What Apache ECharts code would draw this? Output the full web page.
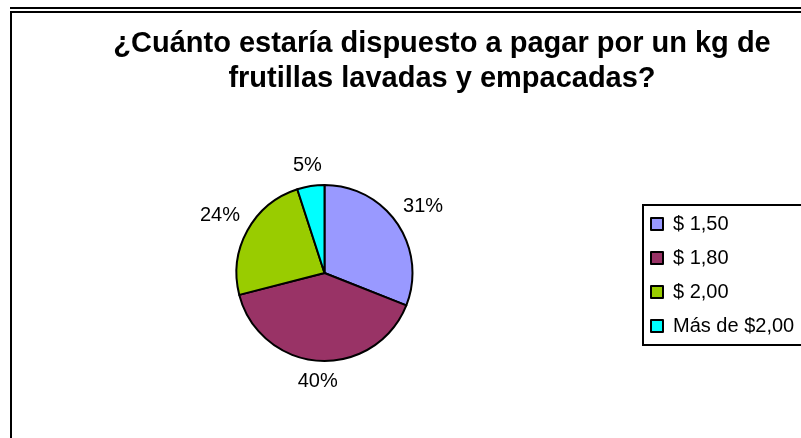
<!DOCTYPE html>
<html>
<head>
<meta charset="utf-8">
<script src="https://cdn.jsdelivr.net/npm/echarts@6/dist/echarts.min.js"></script>
<style>html,body{margin:0;padding:0;background:#fff;}#c{width:801px;height:438px;}</style>
</head>
<body>
<div id="c"></div>
<script>
const categories = ['$ 1,50', '$ 1,80', '$ 2,00', 'Más de $2,00'];
const values = [31, 40, 24, 5];
const colors = ['#9999FF', '#993366', '#99CC00', '#00FFFF'];
const titleText = '¿Cuánto estaría dispuesto a pagar por un kg de\nfrutillas lavadas y empacadas?';

const PIE_CENTER = [324.5, 273];
const PIE_RADIUS = 88;
const LABEL_GAP = 9;

const pieData = categories.map((n, i) => ({name: n, value: values[i], itemStyle: {color: colors[i]}}));

const chart = echarts.init(document.getElementById('c'), null, {renderer: 'canvas'});
chart.setOption({
  animation: false,
  backgroundColor: '#fff',
  title: {
    text: titleText,
    left: 437,
    top: 21,
    textAlign: 'center',
    textStyle: {fontFamily: 'Liberation Sans', fontSize: 29, fontWeight: 'bold', color: '#000', lineHeight: 35}
  },
  legend: {
    orient: 'vertical',
    left: 643,
    top: 205,
    data: categories,
    icon: 'rect',
    itemWidth: 12,
    itemHeight: 12,
    itemGap: 14,
    padding: [9, 12, 9, 7],
    borderColor: '#000',
    borderWidth: 2,
    backgroundColor: '#fff',
    textStyle: {fontFamily: 'Liberation Sans', fontSize: 20, color: '#000', padding: [0, 0, 0, 5]},
    itemStyle: {borderColor: '#000', borderWidth: 2}
  },
  graphic: [
    {type: 'line', shape: {x1: 10, y1: 8, x2: 801, y2: 8}, style: {stroke: '#000', lineWidth: 2}},
    {type: 'line', shape: {x1: 10, y1: 12, x2: 801, y2: 12}, style: {stroke: '#000', lineWidth: 2}},
    {type: 'line', shape: {x1: 11, y1: 12, x2: 11, y2: 438}, style: {stroke: '#000', lineWidth: 2}}
  ],
  series: [{
    type: 'pie',
    center: PIE_CENTER,
    radius: PIE_RADIUS,
    startAngle: 90,
    clockwise: true,
    data: pieData,
    itemStyle: {borderColor: '#000', borderWidth: 2},
    label: {show: true, position: 'inside', formatter: '{d}%', fontFamily: 'Liberation Sans', fontSize: 20, color: '#000'},
    labelLine: {show: false},
    labelLayout: function (p) {
      const r = p.labelRect;
      const lx = r.x + r.width / 2, ly = r.y + r.height / 2;
      const dx = lx - PIE_CENTER[0], dy = ly - PIE_CENTER[1];
      const d = Math.hypot(dx, dy) || 1;
      const ux = dx / d, uy = dy / d;
      const ext = Math.abs(ux) * r.width / 2 + Math.abs(uy) * r.height / 2;
      const R = PIE_RADIUS + LABEL_GAP + ext;
      return {x: PIE_CENTER[0] + ux * R, y: PIE_CENTER[1] + uy * R, align: 'center', verticalAlign: 'middle'};
    },
    emphasis: {disabled: true}
  }]
});
</script>
</body>
</html>
